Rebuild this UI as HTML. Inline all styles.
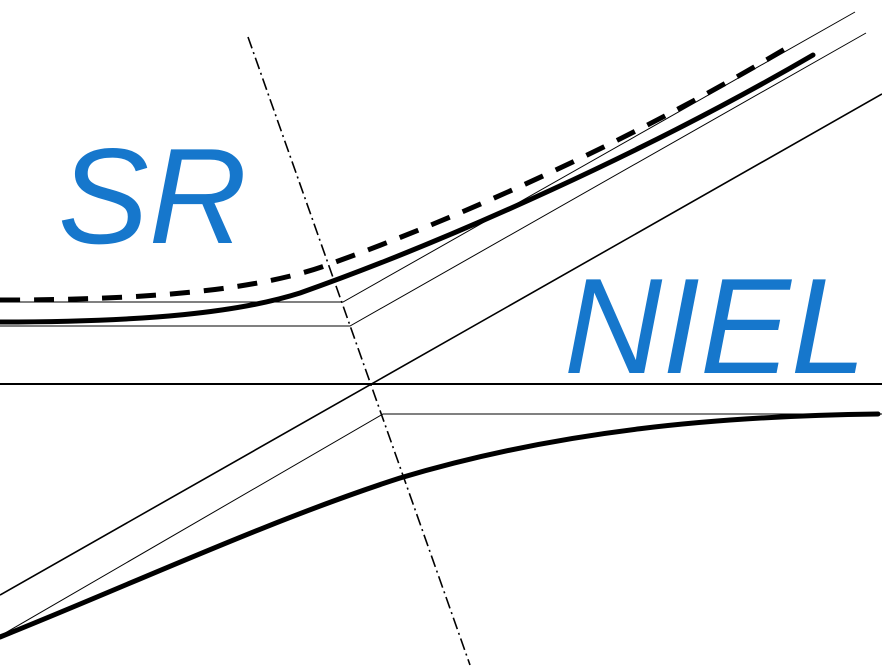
<!DOCTYPE html>
<html><head><style>body{margin:0;background:#fff}svg{display:block}</style></head>
<body>
<svg width="882" height="669" viewBox="0 0 882 669" xmlns="http://www.w3.org/2000/svg">
<rect width="882" height="669" fill="#fff"/>
<g stroke="#000" fill="none">
<line x1="0" y1="384" x2="882" y2="384" stroke-width="2"/>
<line x1="0" y1="595" x2="882" y2="94" stroke-width="1.6"/>
<polyline points="0,302 343,302 855,12" stroke-width="1"/>
<polyline points="0,326 350,326 866,33" stroke-width="1"/>
<polyline points="0,636 383,414 882,414" stroke-width="1"/>
<line x1="248" y1="37" x2="470" y2="665" stroke-width="1.6" stroke-dasharray="12,4,2,4"/>
<path d="M0,322 C150,322 240,312 300,293 C450,240 650,150 813,55" stroke-width="5" stroke-linecap="round"/>
<path d="M0,300 C150,300 260,290 330,264 C480,210 650,130 790,46" stroke-width="5" stroke-dasharray="20,14"/>
<path d="M0,637 C130,585 270,520 400,478 C560,430 720,416 878,414" stroke-width="5" stroke-linecap="round"/>
</g>
<g fill="#1677cc" font-family="Liberation Sans, sans-serif" font-style="italic" font-size="136">
<text x="58" y="243">SR</text>
<text x="564" y="373">NIEL</text>
</g>
</svg>
</body></html>
